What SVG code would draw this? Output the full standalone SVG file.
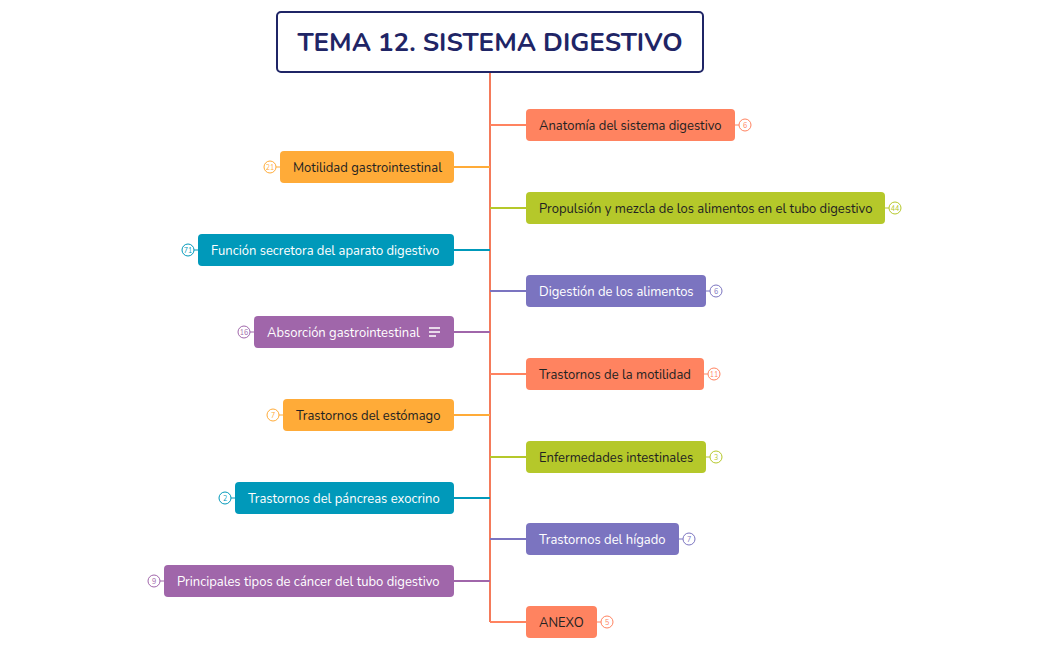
<svg xmlns="http://www.w3.org/2000/svg" width="1050" height="650" viewBox="0 0 1050 650">
<style>
text{font-family:"Nunito","Noto Sans","Liberation Sans",sans-serif;font-size:13px}
.d{fill:#222}.w{fill:#fff}
.b{fill:#fff;stroke-width:1}
.bt{font-size:7px;text-anchor:middle}
.or{fill:#FF8360}.gr{fill:#B5C82A}.vi{fill:#7B74C0}.te{fill:#0099BA}.pu{fill:#A066AA}.am{fill:#FFAB38}
</style>
<rect width="1050" height="650" fill="#fff"/>
<g id="connectors" fill="none" stroke-width="2">
<path d="M490 72V622" stroke="#F47A5A"/>
<path d="M490 125H526" stroke="#FF8360"/>
<path d="M490 208H526" stroke="#B5C82A"/>
<path d="M490 291H526" stroke="#7B74C0"/>
<path d="M490 374H526" stroke="#FF8360"/>
<path d="M490 457H526" stroke="#B5C82A"/>
<path d="M490 539H526" stroke="#7B74C0"/>
<path d="M490 622H526" stroke="#FF8360"/>
<path d="M454 167H490" stroke="#FFAB38"/>
<path d="M454 250H490" stroke="#0099BA"/>
<path d="M454 332H490" stroke="#A066AA"/>
<path d="M454 415H490" stroke="#FFAB38"/>
<path d="M454 498H490" stroke="#0099BA"/>
<path d="M454 581H490" stroke="#A066AA"/>
</g>
<g id="title"><rect x="277" y="12" width="426" height="60" rx="4" fill="#fff" stroke="#1F2566" stroke-width="2"/>
<text x="490" y="51" text-anchor="middle" style="font-size:26px;font-weight:bold" fill="#1F2566">TEMA 12. SISTEMA DIGESTIVO</text></g>
<g id="n1"><rect class="or" x="526" y="109" width="209" height="32" rx="4"/><text class="d" x="539" y="130">Anatomía del sistema digestivo</text><path d="M735 125h4" stroke="#FF8360"/><circle class="b" cx="745" cy="125" r="6" stroke="#FF8360"/><text class="bt" x="745" y="127.5" fill="#FF8360">6</text></g>
<g id="n2"><rect class="gr" x="526" y="192" width="359" height="32" rx="4"/><text class="d" x="539" y="213">Propulsión y mezcla de los alimentos en el tubo digestivo</text><path d="M885 208h4" stroke="#B5C82A"/><circle class="b" cx="895" cy="208" r="6" stroke="#B5C82A"/><text class="bt" x="895" y="210.5" fill="#B5C82A">44</text></g>
<g id="n3"><rect class="vi" x="526" y="275" width="180" height="32" rx="4"/><text class="w" x="539" y="296">Digestión de los alimentos</text><path d="M706 291h4" stroke="#7B74C0"/><circle class="b" cx="716" cy="291" r="6" stroke="#7B74C0"/><text class="bt" x="716" y="293.5" fill="#7B74C0">6</text></g>
<g id="n4"><rect class="or" x="526" y="358" width="178" height="32" rx="4"/><text class="d" x="539" y="379">Trastornos de la motilidad</text><path d="M704 374h4" stroke="#FF8360"/><circle class="b" cx="714" cy="374" r="6" stroke="#FF8360"/><text class="bt" x="714" y="376.5" fill="#FF8360">11</text></g>
<g id="n5"><rect class="gr" x="526" y="441" width="180" height="32" rx="4"/><text class="d" x="539" y="462">Enfermedades intestinales</text><path d="M706 457h4" stroke="#B5C82A"/><circle class="b" cx="716" cy="457" r="6" stroke="#B5C82A"/><text class="bt" x="716" y="459.5" fill="#B5C82A">3</text></g>
<g id="n6"><rect class="vi" x="526" y="523" width="153" height="32" rx="4"/><text class="w" x="539" y="544">Trastornos del hígado</text><path d="M679 539h4" stroke="#7B74C0"/><circle class="b" cx="689" cy="539" r="6" stroke="#7B74C0"/><text class="bt" x="689" y="541.5" fill="#7B74C0">7</text></g>
<g id="n7"><rect class="or" x="526" y="606" width="71" height="32" rx="4"/><text class="d" x="539" y="627">ANEXO</text><path d="M597 622h4" stroke="#FF8360"/><circle class="b" cx="607" cy="622" r="6" stroke="#FF8360"/><text class="bt" x="607" y="624.5" fill="#FF8360">5</text></g>
<g id="n8"><rect class="am" x="280" y="151" width="174" height="32" rx="4"/><text class="d" x="293" y="172">Motilidad gastrointestinal</text><path d="M276 167h4" stroke="#FFAB38"/><circle class="b" cx="270" cy="167" r="6" stroke="#FFAB38"/><text class="bt" x="270" y="169.5" fill="#FFAB38">21</text></g>
<g id="n9"><rect class="te" x="198" y="234" width="256" height="32" rx="4"/><text class="w" x="211" y="255">Función secretora del aparato digestivo</text><path d="M194 250h4" stroke="#0099BA"/><circle class="b" cx="188" cy="250" r="6" stroke="#0099BA"/><text class="bt" x="188" y="252.5" fill="#0099BA">71</text></g>
<g id="n10"><rect class="pu" x="254" y="316" width="200" height="32" rx="4"/><text class="w" x="267" y="337">Absorción gastrointestinal</text><path d="M429 328h11M429 332h11M429 336h7" stroke="#fff" stroke-width="1.5"/><path d="M250 332h4" stroke="#A066AA"/><circle class="b" cx="244" cy="332" r="6" stroke="#A066AA"/><text class="bt" x="244" y="334.5" fill="#A066AA">16</text></g>
<g id="n11"><rect class="am" x="283" y="399" width="171" height="32" rx="4"/><text class="d" x="296" y="420">Trastornos del estómago</text><path d="M279 415h4" stroke="#FFAB38"/><circle class="b" cx="273" cy="415" r="6" stroke="#FFAB38"/><text class="bt" x="273" y="417.5" fill="#FFAB38">7</text></g>
<g id="n12"><rect class="te" x="235" y="482" width="219" height="32" rx="4"/><text class="w" x="248" y="503">Trastornos del páncreas exocrino</text><path d="M231 498h4" stroke="#0099BA"/><circle class="b" cx="225" cy="498" r="6" stroke="#0099BA"/><text class="bt" x="225" y="500.5" fill="#0099BA">2</text></g>
<g id="n13"><rect class="pu" x="164" y="565" width="290" height="32" rx="4"/><text class="w" x="177" y="586">Principales tipos de cáncer del tubo digestivo</text><path d="M160 581h4" stroke="#A066AA"/><circle class="b" cx="154" cy="581" r="6" stroke="#A066AA"/><text class="bt" x="154" y="583.5" fill="#A066AA">9</text></g>
</svg>
